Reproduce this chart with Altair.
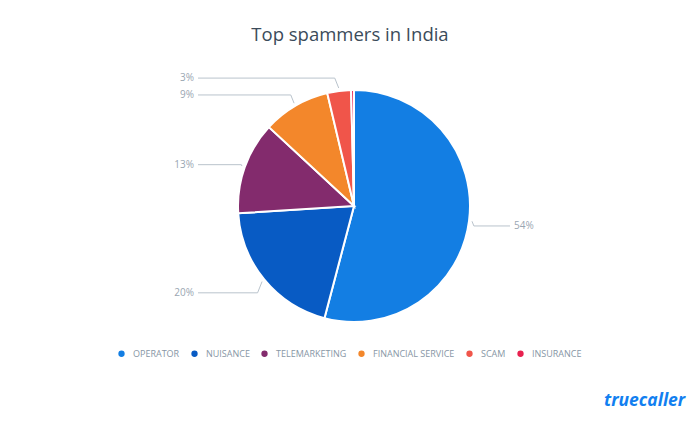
import altair as alt
import pandas as pd

# ---- data ----
categories = ["OPERATOR", "NUISANCE", "TELEMARKETING", "FINANCIAL SERVICE", "SCAM", "INSURANCE"]
shares = [54.1, 19.9, 12.9, 9.4, 3.3, 0.4]
colors = ["#137ee3", "#085bc4", "#832b6d", "#f3872b", "#f0554a", "#e8214f"]
title_text = ["Top spammers in India"]
brand_text = ["truecaller"]

# ---- layout ----
W, H = 700, 424
CX, CY, R = 354, 206, 116
EDGE = R + 3      # connector start radius
LAB = R + 16      # label vertical radius
LAB_SHIFT = 3     # small downward shift of label rows
COL = R + 40      # horizontal distance of connector end from centre
FONT = "Open Sans"
GREY_TXT = "#9aa6b2"
GREY_LINE = "#b9c3cc"

df = pd.DataFrame({"category": categories, "share": shares, "idx": list(range(len(categories)))})
base = alt.Chart(df)

pie = base.mark_arc(radius=R, stroke="white", strokeWidth=2).encode(
    theta=alt.Theta("share:Q", stack=True),
    color=alt.Color(
        "category:N",
        scale=alt.Scale(domain=categories, range=colors),
        legend=alt.Legend(
            orient="none", legendX=117, legendY=349, direction="horizontal", title=None,
            symbolType="circle", symbolSize=40, symbolStrokeWidth=0,
            labelFont=FONT, labelFontSize=9, labelColor="#8796a5",
            columnPadding=10, labelOffset=7, padding=0,
        ),
    ),
    order=alt.Order("idx:Q", sort="ascending"),
    x=alt.value(CX),
    y=alt.value(CY),
)

geo = (
    base.transform_window(cum="sum(share)", sort=[alt.SortField("idx")], frame=[None, 0])
    .transform_joinaggregate(total="sum(share)")
    .transform_calculate(a="2*PI*(datum.cum - datum.share/2)/datum.total")
    .transform_calculate(
        ex=f"{CX} + sin(datum.a)*{EDGE}",
        ey=f"{CY} - cos(datum.a)*{EDGE}",
        ly=f"{CY} + {LAB_SHIFT} - cos(datum.a)*{LAB}",
        side="sin(datum.a) >= 0 ? 1 : -1",
        lbl="format(datum.share, '.0f') + '%'",
    )
    .transform_calculate(
        kx="datum.ex + datum.side*0.4*abs(datum.ly - datum.ey)",
        endx=f"{CX} + datum.side*{COL}",
        tx=f"{CX} + datum.side*{COL + 4}",
    )
    .transform_filter("datum.share >= 1")
)

seg1 = geo.mark_rule(color=GREY_LINE, strokeWidth=1).encode(
    x=alt.X("ex:Q", scale=None, axis=None),
    y=alt.Y("ey:Q", scale=None, axis=None),
    x2="kx:Q",
    y2="ly:Q",
)
seg2 = geo.mark_rule(color=GREY_LINE, strokeWidth=1).encode(
    x=alt.X("kx:Q", scale=None, axis=None),
    y=alt.Y("ly:Q", scale=None, axis=None),
    x2="endx:Q",
    y2="ly:Q",
)
lab_right = geo.transform_filter("datum.side > 0").mark_text(
    align="left", baseline="middle", font=FONT, fontSize=10, color=GREY_TXT
).encode(
    x=alt.X("tx:Q", scale=None, axis=None),
    y=alt.Y("ly:Q", scale=None, axis=None),
    text="lbl:N",
)
lab_left = geo.transform_filter("datum.side < 0").mark_text(
    align="right", baseline="middle", font=FONT, fontSize=10, color=GREY_TXT
).encode(
    x=alt.X("tx:Q", scale=None, axis=None),
    y=alt.Y("ly:Q", scale=None, axis=None),
    text="lbl:N",
)

title = alt.Chart(pd.DataFrame({"t": title_text})).mark_text(
    align="center", baseline="alphabetic", font=FONT, fontSize=18.5, color="#3b4b5a"
).encode(x=alt.value(350), y=alt.value(41), text="t:N")

brand = alt.Chart(pd.DataFrame({"t": brand_text})).mark_text(
    align="left", baseline="alphabetic", font=FONT, fontSize=17.5, fontWeight="bold",
    fontStyle="italic", color="#127ff0"
).encode(x=alt.value(604), y=alt.value(406), text="t:N")

chart = (
    alt.layer(pie, seg1, seg2, lab_right, lab_left, title, brand)
    .resolve_scale(color="independent")
    .properties(width=W, height=H, autosize=alt.AutoSizeParams(type="none"), padding=0, background="white")
    .configure_view(stroke=None)
)

chart.save("out.html", embed_options={"renderer": "svg", "actions": False})
